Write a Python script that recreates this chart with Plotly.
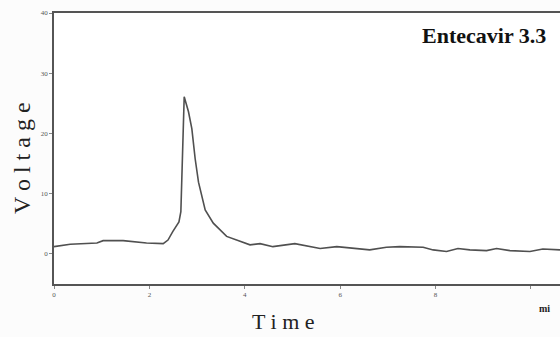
import plotly.graph_objects as go

time_min = [0, 0.34, 0.9, 1.03, 1.45, 1.94, 2.29, 2.39, 2.49, 2.58, 2.62, 2.66, 2.73, 2.82, 2.89,
            2.96, 3.03, 3.17, 3.34, 3.62, 3.83, 4.11, 4.32, 4.59, 5.05, 5.37, 5.58, 5.93, 6.35,
            6.62, 6.97, 7.25, 7.74, 7.95, 8.23, 8.47, 8.72, 9.07, 9.28, 9.56, 9.98, 10.25, 10.61]
voltage = [1.2, 1.6, 1.8, 2.2, 2.2, 1.8, 1.7, 2.3, 3.7, 4.8, 5.3, 7.0, 26.1, 23.6, 20.8,
           15.8, 11.9, 7.3, 5.1, 2.9, 2.3, 1.5, 1.7, 1.2, 1.7, 1.2, 0.9, 1.2, 0.9,
           0.66, 1.1, 1.2, 1.1, 0.66, 0.4, 0.9, 0.66, 0.55, 0.9, 0.55, 0.4, 0.8, 0.66]
x_ticks = [0, 2, 4, 6, 8, 10]
x_tick_labels = ["0", "2", "4", "6", "8", ""]
y_ticks = [0, 10, 20, 30, 40]
title_text = "Entecavir 3.3"

L, R, T, B = 54, 0, 13, 53
W, H = 560, 337
pw, ph = W - L - R, H - T - B


def px(xp):
    return (xp - L) / pw


def py(yp):
    return (H - B - yp) / ph


fig = go.Figure()
fig.add_trace(go.Scatter(x=time_min, y=voltage, mode="lines",
                         line=dict(color="#505050", width=1.6), hoverinfo="skip"))

fig.update_layout(
    width=W, height=H,
    margin=dict(l=L, r=R, t=T, b=B),
    paper_bgcolor="#fcfcfc", plot_bgcolor="#ffffff",
    showlegend=False,
    font=dict(family="Liberation Serif", color="#222"),
    xaxis=dict(range=[0, 10.61], tickvals=x_ticks, ticktext=x_tick_labels,
               showgrid=False, zeroline=False, showline=True, linecolor="#555",
               linewidth=1.5, mirror=True, ticks="outside", ticklen=3, tickcolor="#888",
               tickfont=dict(size=7, color="#555")),
    yaxis=dict(range=[-5, 40], tickvals=y_ticks, showgrid=False, zeroline=False,
               showline=True, linecolor="#555", linewidth=1.5, mirror=False,
               ticks="outside", ticklen=3, tickcolor="#888",
               tickfont=dict(size=7, color="#555")),
    annotations=[
        dict(text="<b>" + title_text + "</b>", x=px(548), y=py(35), xref="paper", yref="paper",
             showarrow=False, font=dict(size=22, family="Liberation Serif", color="#111"),
             xanchor="right", yanchor="middle"),
        dict(text="T i m e", x=px(283), y=py(322), showarrow=False, xref="paper", yref="paper",
             xanchor="center", yanchor="middle",
             font=dict(size=22, family="Liberation Serif", color="#222")),
        dict(text="V o l t a g e", x=px(22), y=py(158), showarrow=False, xref="paper",
             yref="paper", xanchor="center", yanchor="middle",
             textangle=-90, font=dict(size=24, family="Liberation Serif", color="#222")),
        dict(text="<b>mi</b>", x=px(552), y=py(308), showarrow=False, xref="paper",
             yref="paper", xanchor="right", yanchor="middle",
             font=dict(size=10, family="Liberation Serif", color="#222")),
    ],
)

fig.write_html("out.html", config={"displayModeBar": False},
               post_script="document.body.style.margin='0px';")
